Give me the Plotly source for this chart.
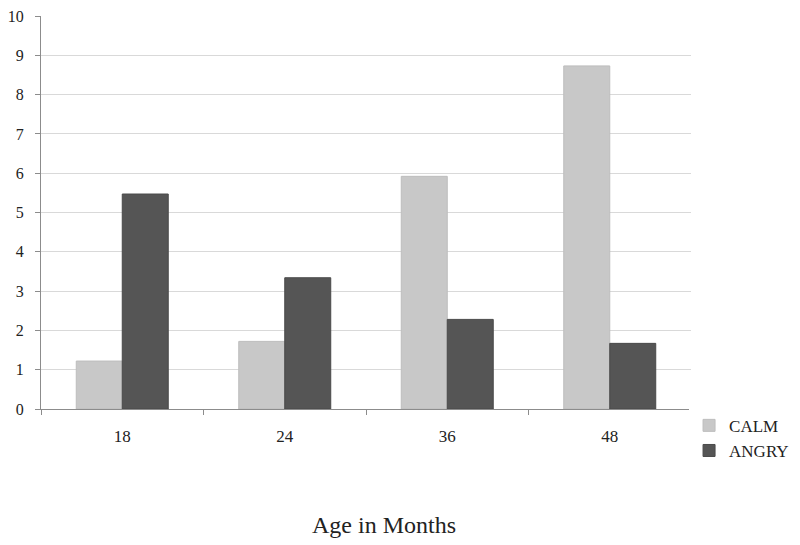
import plotly.graph_objects as go

categories = ["18", "24", "36", "48"]
calm = [1.22, 1.72, 5.92, 8.73]
angry = [5.47, 3.34, 2.28, 1.67]
y_ticks = list(range(0, 11))

FONT = "Liberation Serif"

fig = go.Figure()
fig.add_trace(go.Bar(x=categories, y=calm, name="CALM",
                     marker=dict(color="#c8c8c8", line=dict(color="#bdbdbd", width=1))))
fig.add_trace(go.Bar(x=categories, y=angry, name="ANGRY",
                     marker=dict(color="#555555", line=dict(color="#4a4a4a", width=1))))

fig.update_layout(
    width=792, height=537,
    margin=dict(l=33, r=109, t=8, b=136, autoexpand=False),
    paper_bgcolor="white", plot_bgcolor="white",
    barmode="group", bargap=0.434, bargroupgap=0,
    font=dict(family=FONT, size=17, color="#222222"),
    legend=dict(x=0.997, y=0.003, xanchor="left", yanchor="top",
                font=dict(family=FONT, size=17), tracegroupgap=0,
                itemwidth=30),
    showlegend=True,
)
fig.update_xaxes(
    type="category", showline=True, linecolor="#8c8c8c", linewidth=1,
    ticks="outside", tickson="boundaries", ticklen=5, tickcolor="#8c8c8c",
    showgrid=False, tickfont=dict(family=FONT, size=17), automargin=False,
    ticklabelstandoff=12,
)
fig.update_yaxes(
    range=[0, 10], tickvals=y_ticks, showline=True, linecolor="#8c8c8c", linewidth=1,
    ticks="outside", ticklen=5, tickcolor="#8c8c8c",
    showgrid=True, gridcolor="#d9d9d9", gridwidth=1, zeroline=False,
    tickfont=dict(family=FONT, size=16), automargin=False,
    ticklabelstandoff=8, ticklabeloverflow="allow",
)
fig.add_annotation(text="Age in Months", xref="paper", yref="paper",
                   x=0.527, y=-0.295, yanchor="middle", xanchor="center", showarrow=False,
                   font=dict(family=FONT, size=24, color="#222222"))

fig.write_html("out.html")
